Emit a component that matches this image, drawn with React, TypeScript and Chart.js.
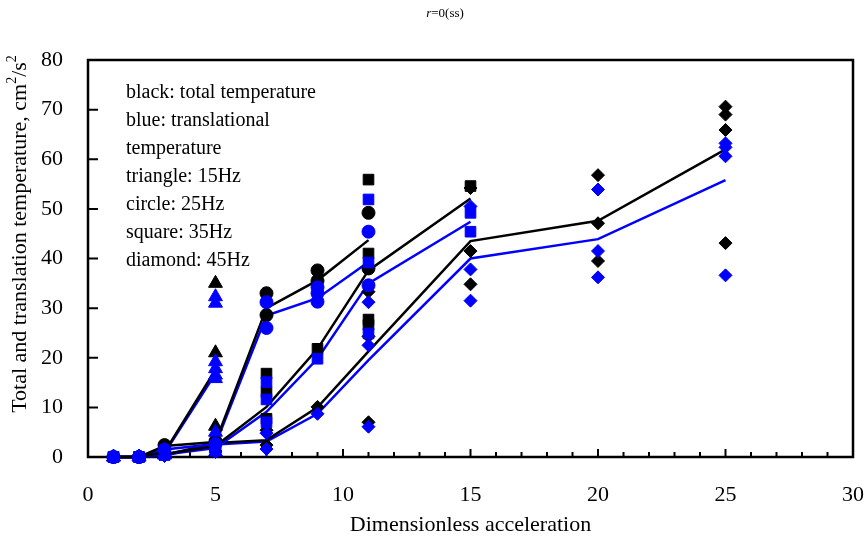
import React, { useEffect, useRef } from "react";
import { Chart, registerables } from "chart.js";

Chart.register(...registerables);

const FONT = "'Liberation Serif', 'Times New Roman', serif";
const BLACK = "#000000";
const BLUE = "#0000FF";

// Axis settings
const X_MIN = 0;
const X_MAX = 30;
const X_STEP = 5;
const Y_MIN = 0;
const Y_MAX = 80;
const Y_STEP = 10;

// Annotation text
const notes = [
  "black: total temperature",
  "blue: translational",
  "temperature",
  "triangle: 15Hz",
  "circle: 25Hz",
  "square: 35Hz",
  "diamond: 45Hz",
];

// ---- Markers (measured points) ----
// triangles: 15 Hz
const triBlackX = [1, 2, 3, 5, 5, 5];
const triBlackY = [0, 0, 0.5, 35, 21, 6.2];
const triBlueX = [1, 2, 3, 5, 5, 5, 5, 5, 5, 5, 5];
const triBlueY = [0, 0, 0.4, 32.3, 31, 19.2, 17.8, 16.5, 15.8, 5.0, 1.0];

// circles: 25 Hz
const cirBlackX = [1, 2, 3, 5, 7, 7, 9, 9, 11, 11];
const cirBlackY = [0, 0, 2.4, 3.2, 33, 28.6, 37.6, 35.5, 49.2, 38];
const cirBlueX = [1, 2, 3, 5, 7, 7, 9, 9, 9, 11, 11];
const cirBlueY = [0, 0, 1.5, 2.6, 31.2, 26, 34.2, 33, 31.3, 45.4, 34.6];

// squares: 35 Hz
const sqBlackX = [1, 2, 3, 5, 7, 7, 7, 9, 11, 11, 11, 11, 15];
const sqBlackY = [0, 0, 0.5, 2, 16.8, 13.1, 7.7, 21.8, 55.9, 41, 27.7, 26.6, 54.6];
const sqBlueX = [1, 2, 3, 5, 7, 7, 7, 9, 11, 11, 11, 15, 15];
const sqBlueY = [0, 0, 0.4, 1.5, 15.1, 11.6, 7, 19.8, 51.9, 39.2, 24.9, 49.2, 45.4];

// diamonds: 45 Hz
const diaBlackX = [1, 2, 3, 5, 7, 7, 9, 11, 11, 11, 15, 15, 15, 20, 20, 20, 25, 25, 25, 25];
const diaBlackY = [0, 0, 0.3, 1.2, 5.4, 2.4, 10.1, 33.3, 24.3, 7.0, 54.2, 41.5, 34.8, 56.8, 47.1, 39.5, 70.6, 69, 65.9, 43.1];
const diaBlueX = [1, 2, 3, 5, 7, 7, 9, 11, 11, 11, 15, 15, 15, 20, 20, 20, 25, 25, 25, 25];
const diaBlueY = [0, 0, 0.2, 1, 4.8, 1.6, 8.7, 31.2, 22.5, 6.1, 50.5, 37.8, 31.5, 53.9, 41.5, 36.2, 63.2, 62.4, 60.6, 36.6];

// ---- Trend lines ----
const triLineX = [1, 2, 3, 5];
const triLineBlackY = [0, 0, 1, 17.6];
const triLineBlueY = [0, 0, 0.8, 16.8];

const cirLineX = [1, 2, 3, 5, 7, 9, 11];
const cirLineBlackY = [0, 0, 2.2, 3, 30, 35.6, 43.7];
const cirLineBlueY = [0, 0, 1.5, 2.6, 28.5, 32, 39.3];

const sqLineX = [1, 2, 3, 5, 7, 9, 11, 15];
const sqLineBlackY = [0, 0, 0.6, 2.2, 10.1, 21.8, 37.6, 52.1];
const sqLineBlueY = [0, 0, 0.5, 1.8, 9.1, 19.8, 35, 47.4];

const diaLineX = [1, 2, 3, 5, 7, 9, 11, 15, 20, 25];
const diaLineBlackY = [0, 0, 0.4, 2.8, 3.4, 10, 21.3, 43.5, 47.6, 62];
const diaLineBlueY = [0, 0, 0.3, 2.5, 3.1, 8.7, 19.5, 40, 43.9, 55.8];

const pts = (xs: number[], ys: number[]) => xs.map((x, i) => ({ x, y: ys[i] }));

const lineDs = (xs: number[], ys: number[], color: string) => ({
  type: "line" as const,
  data: pts(xs, ys),
  borderColor: color,
  backgroundColor: color,
  borderWidth: 2.5,
  pointRadius: 0,
  pointHoverRadius: 0,
  fill: false,
  tension: 0,
  showLine: true,
  order: 10,
  clip: false as any,
});

const markDs = (xs: number[], ys: number[], color: string, style: string, r: number, order: number) => ({
  type: "scatter" as const,
  data: pts(xs, ys),
  pointStyle: style,
  pointRadius: r,
  pointHoverRadius: r,
  backgroundColor: color,
  borderColor: color,
  borderWidth: 1,
  showLine: false,
  order,
  clip: false as any,
});

const framePlugin = {
  id: "frame",
  beforeDatasetsDraw(chart: any) {
    const { ctx, chartArea, scales } = chart;
    const { left, top, right, bottom } = chartArea;
    const xs = scales.x;
    const ys = scales.y;
    ctx.save();
    ctx.strokeStyle = BLACK;
    ctx.lineWidth = 2.5;
    ctx.strokeRect(left, top, right - left, bottom - top);
    ctx.lineWidth = 2;
    ctx.beginPath();
    for (let v = X_MIN; v <= X_MAX; v += 1) {
      const px = xs.getPixelForValue(v);
      const len = v % X_STEP === 0 ? 8 : 5;
      ctx.moveTo(px, bottom);
      ctx.lineTo(px, bottom - len);
    }
    for (let v = Y_MIN; v <= Y_MAX; v += Y_STEP) {
      const py = ys.getPixelForValue(v);
      ctx.moveTo(left, py);
      ctx.lineTo(left + 10, py);
    }
    ctx.stroke();
    ctx.restore();
  },
  afterDraw(chart: any) {
    const { ctx } = chart;
    ctx.save();
    ctx.fillStyle = BLACK;

    // title r=0(ss)
    ctx.textBaseline = "middle";
    ctx.textAlign = "left";
    ctx.font = `italic 13px ${FONT}`;
    const rW = ctx.measureText("r").width;
    ctx.font = `13px ${FONT}`;
    const restW = ctx.measureText("=0(ss)").width;
    const tx = 445 - (rW + restW) / 2;
    ctx.font = `italic 13px ${FONT}`;
    ctx.fillText("r", tx, 14);
    ctx.font = `13px ${FONT}`;
    ctx.fillText("=0(ss)", tx + rW, 14);

    // notes
    ctx.font = `20px ${FONT}`;
    notes.forEach((t, i) => ctx.fillText(t, 126, 93 + i * 28));

    // y axis title with superscripts
    ctx.translate(20, 234);
    ctx.rotate(-Math.PI / 2);
    const main = "Total and translation temperature, cm";
    const sup = "2";
    const mid = "/s";
    ctx.font = `22px ${FONT}`;
    const wMain = ctx.measureText(main).width;
    const wMid = ctx.measureText(mid).width;
    ctx.font = `14px ${FONT}`;
    const wSup = ctx.measureText(sup).width;
    const total = wMain + wSup + wMid + wSup;
    let cx = -total / 2;
    ctx.font = `22px ${FONT}`;
    ctx.fillText(main, cx, 0);
    cx += wMain;
    ctx.font = `14px ${FONT}`;
    ctx.fillText(sup, cx, -8);
    cx += wSup;
    ctx.font = `22px ${FONT}`;
    ctx.fillText(mid, cx, 0);
    cx += wMid;
    ctx.font = `14px ${FONT}`;
    ctx.fillText(sup, cx, -8);
    ctx.restore();
  },
};

export default function App() {
  const ref = useRef<HTMLCanvasElement | null>(null);
  useEffect(() => {
    if (!ref.current) return;
    const chart = new Chart(ref.current, {
      type: "scatter",
      data: {
        datasets: [
          lineDs(triLineX, triLineBlackY, BLACK),
          lineDs(triLineX, triLineBlueY, BLUE),
          lineDs(cirLineX, cirLineBlackY, BLACK),
          lineDs(cirLineX, cirLineBlueY, BLUE),
          lineDs(sqLineX, sqLineBlackY, BLACK),
          lineDs(sqLineX, sqLineBlueY, BLUE),
          lineDs(diaLineX, diaLineBlackY, BLACK),
          lineDs(diaLineX, diaLineBlueY, BLUE),
          markDs(triBlackX, triBlackY, BLACK, "triangle", 8, 6),
          markDs(cirBlackX, cirBlackY, BLACK, "circle", 6.5, 6),
          markDs(sqBlackX, sqBlackY, BLACK, "rect", 7.5, 6),
          markDs(diaBlackX, diaBlackY, BLACK, "rectRot", 6.5, 6),
          markDs(triBlueX, triBlueY, BLUE, "triangle", 8, 2),
          markDs(cirBlueX, cirBlueY, BLUE, "circle", 6.5, 2),
          markDs(sqBlueX, sqBlueY, BLUE, "rect", 7.5, 2),
          markDs(diaBlueX, diaBlueY, BLUE, "rectRot", 6.5, 2),
        ] as any,
      },
      options: {
        responsive: false,
        animation: false,
        devicePixelRatio: 1,
        layout: { padding: { top: 60, right: 15, left: 0, bottom: 0 } },
        plugins: {
          legend: { display: false },
          title: { display: false },
          tooltip: { enabled: false },
        },
        scales: {
          x: {
            type: "linear",
            min: X_MIN,
            max: X_MAX,
            grid: { display: false, drawTicks: false, tickLength: 0 },
            border: { display: false },
            ticks: {
              stepSize: X_STEP,
              color: BLACK,
              padding: 25,
              maxRotation: 0,
              font: { family: FONT, size: 22 },
            },
            title: {
              display: true,
              text: "Dimensionless acceleration",
              color: BLACK,
              font: { family: FONT, size: 22 },
              padding: { top: 0, bottom: 10 },
            },
            afterFit(s: any) {
              s.height = 91;
              s.paddingLeft = 0;
              s.paddingRight = 0;
            },
          },
          y: {
            type: "linear",
            min: Y_MIN,
            max: Y_MAX,
            grid: { display: false, drawTicks: false, tickLength: 0 },
            border: { display: false },
            ticks: {
              stepSize: Y_STEP,
              color: BLACK,
              padding: 25,
              font: { family: FONT, size: 22 },
            },
            afterFit(s: any) {
              s.width = 88;
              s.paddingTop = 0;
              s.paddingBottom = 0;
            },
          },
        },
      } as any,
      plugins: [framePlugin],
    });
    return () => chart.destroy();
  }, []);
  return (
    <div style={{ position: "absolute", left: 0, top: 0, width: 868, height: 548, background: "#fff" }}>
      <canvas ref={ref} width={868} height={548} style={{ display: "block" }} />
    </div>
  );
}
